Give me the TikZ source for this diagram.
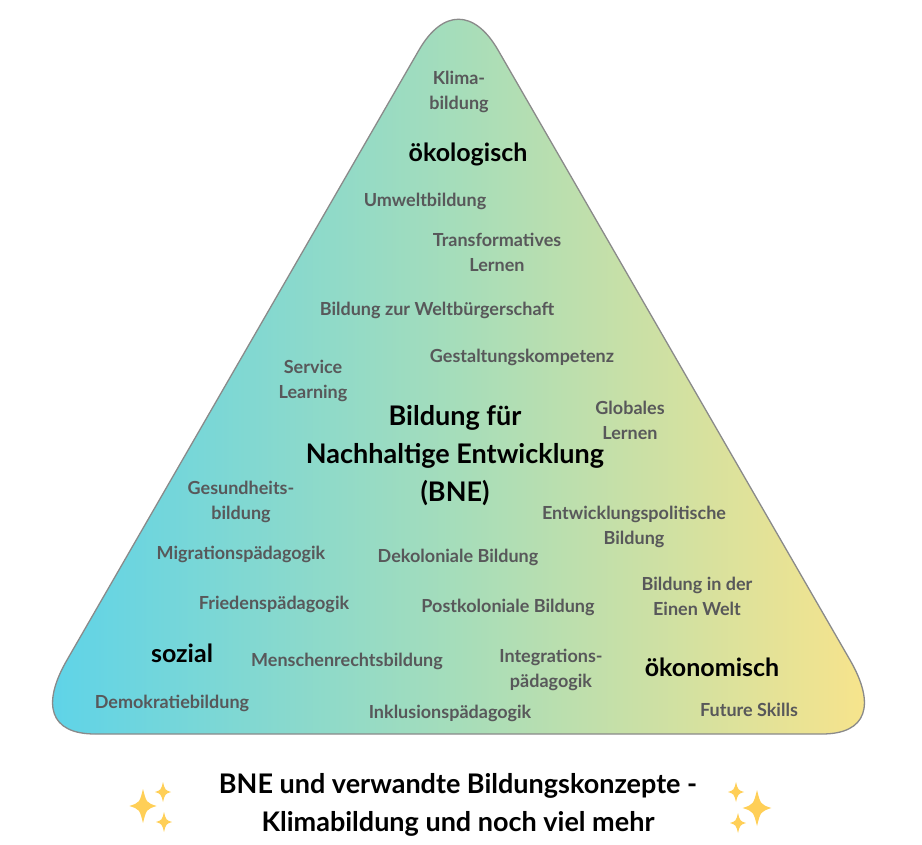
\documentclass[tikz,border=0pt]{standalone}
\usepackage{fontspec}
\setmainfont{Lato}
\definecolor{lblgray}{HTML}{58585A}
\definecolor{cyanL}{HTML}{5DD3E9}
\definecolor{greenM}{HTML}{A6DDBA}
\definecolor{yellowR}{HTML}{F9E48B}
\definecolor{outline}{HTML}{8A8A8A}
\definecolor{sparkc}{HTML}{FFCF57}
\tikzset{
  lbl/.style={text=lblgray, font=\bfseries\fontsize{18}{25}\selectfont, align=center, inner sep=0pt},
  key/.style={text=black, font=\bfseries\fontsize{25}{28}\selectfont, align=center, inner sep=0pt},
  mainlbl/.style={text=black, font=\bfseries\fontsize{27}{38}\selectfont, align=center, inner sep=0pt},
  titlelbl/.style={text=black, font=\bfseries\fontsize{27}{38}\selectfont, align=center, inner sep=0pt},
  sparkle/.pic={
    \fill[sparkc] (0,-1) .. controls (0.2,-0.2) .. (0.8,0) .. controls (0.2,0.2) .. (0,1)
      .. controls (-0.2,0.2) .. (-0.8,0) .. controls (-0.2,-0.2) .. (0,-1) -- cycle;
  }
}
\begin{document}
\begin{tikzpicture}[x=1pt,y=-1pt]
\useasboundingbox (0,0) rectangle (922,845);
% triangle
\path[left color=cyanL, right color=yellowR, middle color=greenM]
  (95,734) -- (822,734) .. controls (867,734) and (876,705) .. (850,660)
  -- (498,50) .. controls (474.3,9) and (442.7,9) .. (419,50)
  -- (67,660) .. controls (41,705) and (50,734) .. (95,734) -- cycle;
\draw[outline, line width=1.3pt]
  (95,734) -- (822,734) .. controls (867,734) and (876,705) .. (850,660)
  -- (498,50) .. controls (474.3,9) and (442.7,9) .. (419,50)
  -- (67,660) .. controls (41,705) and (50,734) .. (95,734) -- cycle;

% labels
\node[lbl] (klima) at (459,92) {Klima-\\bildung};
\node[key] (oeko) at (468,154) {ökologisch};
\node[lbl] (umwelt) at (425,201) {Umweltbildung};
\node[lbl] (trans) at (497,252) {Transformatives\\Lernen};
\node[lbl] (welt) at (437,310) {Bildung zur Weltbürgerschaft};
\node[lbl] (gestalt) at (522,357) {Gestaltungskompetenz};
\node[lbl] (service) at (313,381) {Service\\Learning};
\node[mainlbl] (bne) at (455,456) {Bildung für\\Nachhaltige Entwicklung\\(BNE)};
\node[lbl] (global) at (630,420) {Globales\\Lernen};
\node[lbl] (gesund) at (241,502) {Gesundheits-\\bildung};
\node[lbl] (entw) at (634,527) {Entwicklungspolitische\\Bildung};
\node[lbl] (migr) at (241,554) {Migrationspädagogik};
\node[lbl] (dekol) at (458,557) {Dekoloniale Bildung};
\node[lbl] (einewelt) at (697,596) {Bildung in der\\Einen Welt};
\node[lbl] (frieden) at (274,604) {Friedenspädagogik};
\node[lbl] (postkol) at (508,607) {Postkoloniale Bildung};
\node[key] (sozial) at (182,653) {sozial};
\node[lbl] (mensch) at (347,661) {Menschenrechtsbildung};
\node[lbl] (integr) at (551,670) {Integrations-\\pädagogik};
\node[key] (oekon) at (712,667) {ökonomisch};
\node[lbl] (demo) at (172,703) {Demokratiebildung};
\node[lbl] (inkl) at (450,713) {Inklusionspädagogik};
\node[lbl] (future) at (749,710) {Future Skills};

% title
\node[titlelbl] (title) at (458,805) {BNE und verwandte Bildungskonzepte -\\Klimabildung und noch viel mehr};

% sparkles
\pic[scale=17] at (143,806) {sparkle};
\pic[scale=10] at (163,792) {sparkle};
\pic[scale=10] at (164,822) {sparkle};
\pic[scale=18] at (757,808) {sparkle};
\pic[scale=10] at (736,792) {sparkle};
\pic[scale=10] at (738,823) {sparkle};
\end{tikzpicture}
\end{document}
